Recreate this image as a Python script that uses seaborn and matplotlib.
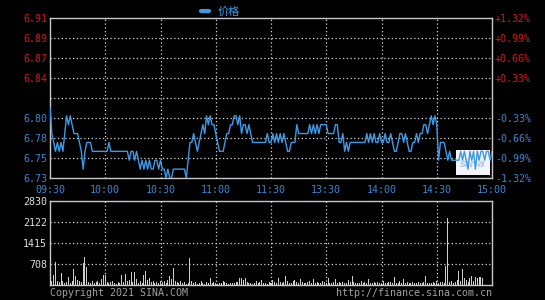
import numpy as np
import pandas as pd
import matplotlib
matplotlib.use("Agg")
import matplotlib.pyplot as plt
import seaborn as sns
from matplotlib.patches import Rectangle

# ---------------- data ----------------
time_ticks = ["09:30", "10:00", "10:30", "11:00", "11:30", "13:30", "14:00", "14:30", "15:00"]
price_ticks = ["6.73", "6.75", "6.78", "6.80", "", "6.84", "6.87", "6.89", "6.91"]
pct_ticks = ["-1.32%", "-0.99%", "-0.66%", "-0.33%", "", "+0.33%", "+0.66%", "+0.99%", "+1.32%"]
vol_ticks = ["", "708", "1415", "2122", "2830"]
price_low, price_high = 6.73, 6.91
vol_max = 2830

price = [
    6.81, 6.78, 6.77, 6.76, 6.77, 6.76, 6.77, 6.76, 6.78, 6.80,
    6.79, 6.80, 6.79, 6.78, 6.78, 6.78, 6.77, 6.76, 6.74, 6.76,
    6.77, 6.77, 6.77, 6.76, 6.76, 6.76, 6.76, 6.76, 6.76, 6.76,
    6.76, 6.76, 6.77, 6.76, 6.76, 6.76, 6.76, 6.76, 6.76, 6.76,
    6.76, 6.76, 6.76, 6.75, 6.76, 6.76, 6.75, 6.76, 6.75, 6.74,
    6.75, 6.74, 6.75, 6.74, 6.75, 6.74, 6.74, 6.75, 6.75, 6.74,
    6.75, 6.74, 6.74, 6.73, 6.74, 6.73, 6.73, 6.74, 6.74, 6.74,
    6.74, 6.74, 6.74, 6.74, 6.73, 6.75, 6.77, 6.77, 6.78, 6.77,
    6.76, 6.77, 6.78, 6.79, 6.78, 6.80, 6.79, 6.80, 6.79, 6.79,
    6.78, 6.77, 6.76, 6.76, 6.76, 6.77, 6.78, 6.78, 6.79, 6.79,
    6.80, 6.80, 6.79, 6.80, 6.78, 6.79, 6.79, 6.78, 6.79, 6.78,
    6.77, 6.77, 6.77, 6.77, 6.77, 6.77, 6.77, 6.77, 6.78, 6.77,
    6.77, 6.78, 6.77, 6.78, 6.77, 6.78, 6.77, 6.78, 6.77, 6.76,
    6.76, 6.77, 6.77, 6.77, 6.79, 6.78, 6.78, 6.78, 6.78, 6.78,
    6.78, 6.79, 6.78, 6.79, 6.78, 6.79, 6.78, 6.79, 6.79, 6.79,
    6.79, 6.78, 6.78, 6.78, 6.78, 6.79, 6.79, 6.77, 6.77, 6.78,
    6.76, 6.77, 6.76, 6.77, 6.77, 6.77, 6.77, 6.77, 6.77, 6.77,
    6.77, 6.77, 6.78, 6.77, 6.78, 6.77, 6.78, 6.77, 6.77, 6.78,
    6.77, 6.77, 6.78, 6.77, 6.77, 6.78, 6.77, 6.76, 6.76, 6.77,
    6.78, 6.78, 6.77, 6.78, 6.77, 6.76, 6.76, 6.77, 6.77, 6.78,
    6.77, 6.78, 6.78, 6.79, 6.79, 6.78, 6.79, 6.80, 6.79, 6.80,
    6.79, 6.75, 6.77, 6.77, 6.77, 6.76, 6.75, 6.76, 6.75, 6.75,
    6.75, 6.75, 6.75, 6.76, 6.75, 6.76, 6.75, 6.74, 6.76, 6.75,
    6.76, 6.74, 6.76, 6.75, 6.76, 6.76, 6.75, 6.76, 6.76, 6.75,
    6.76,
]

volume = [
    280, 120, 340, 790, 150, 90, 420, 130, 60, 110,
    260, 80, 140, 530, 300, 180, 120, 90, 730, 950,
    620, 100, 70, 150, 60, 90, 120, 80, 200, 340,
    340, 110, 60, 90, 130, 70, 50, 110, 80, 350,
    90, 370, 120, 160, 430, 100, 450, 200, 80, 130,
    60, 330, 480, 180, 240, 90, 120, 60, 100, 80,
    150, 90, 130, 70, 180, 320, 200, 560, 150, 90,
    60, 120, 80, 100, 50, 70, 920, 130, 60, 90,
    50, 80, 120, 60, 40, 90, 70, 250, 60, 110,
    80, 50, 70, 60, 150, 90, 60, 40, 80, 70,
    60, 110, 90, 220, 230, 180, 240, 90, 60, 80,
    50, 70, 120, 60, 90, 170, 60, 80, 50, 100,
    60, 180, 90, 70, 250, 110, 60, 90, 300, 150,
    80, 60, 120, 170, 90, 60, 210, 110, 80, 60,
    90, 130, 70, 200, 60, 100, 80, 60, 120, 90,
    70, 220, 60, 80, 100, 190, 60, 90, 70, 110,
    60, 80, 180, 90, 310, 100, 70, 60, 80, 120,
    60, 90, 70, 210, 60, 80, 100, 60, 90, 70,
    60, 120, 80, 70, 90, 110, 60, 280, 80, 60,
    130, 70, 200, 60, 90, 80, 60, 100, 70, 60,
    90, 80, 60, 110, 310, 70, 60, 80, 90, 60,
    120, 80, 90, 100, 60, 650, 2250, 90, 120, 80,
    100, 160, 470, 150, 540, 250, 180, 90, 220, 300,
    150, 260, 220, 280, 260, 240, 0, 0, 0, 0,
    0,
]

minutes = np.arange(len(price))
df = pd.DataFrame({"minute": minutes, "price": price, "volume": volume})

# ---------------- style ----------------
sns.set_style("dark")
plt.rcParams["font.family"] = ["DejaVu Sans Mono", "Noto Sans CJK SC"]

BG = "#000000"
SPINE = "#c8c8c8"
GRID = "#d8d8d8"
RED = "#d01818"
BLUE = "#3d85d0"
LINE = "#3c9ae8"
FS = 7.2

fig = plt.figure(figsize=(5.45, 3.0), dpi=100, facecolor=BG)
ax = fig.add_axes([50 / 545, 1 - 178 / 300, 442 / 545, 160 / 300])
axv = fig.add_axes([50 / 545, 1 - 285 / 300, 442 / 545, 84 / 300])

for a in (ax, axv):
    a.set_facecolor(BG)
    for s in a.spines.values():
        s.set_color(SPINE)
        s.set_linewidth(1.0)
        s.set_visible(True)

# ---------------- price panel ----------------
sns.lineplot(data=df, x="minute", y="price", ax=ax, color=LINE, linewidth=1.0,
             label="价格", zorder=5)

xt = np.linspace(0, 240, len(time_ticks))
ax.set_xlim(0, 240)
ax.set_ylim(price_low, price_high)
yt = np.linspace(price_low, price_high, len(price_ticks))
ax.set_xticks(xt)
ax.set_xticklabels(time_ticks)
ax.set_yticks(yt)
ax.set_yticklabels(price_ticks)
ax.set_xlabel("")
ax.set_ylabel("")
ax.tick_params(axis="both", length=0, labelsize=FS)
ax.tick_params(axis="x", pad=5, colors=BLUE)
ax.tick_params(axis="y", pad=2)
for lab, t in zip(ax.get_yticklabels(), price_ticks):
    lab.set_color(RED if float(t or 0) > 6.82 else BLUE)
ax.grid(False)
for v in xt[1:-1]:
    ax.axvline(v, color=GRID, linewidth=0.9, linestyle=(0, (1, 2)), zorder=1)
for v in yt[1:-1]:
    ax.axhline(v, color=GRID, linewidth=0.9, linestyle=(0, (1, 2)), zorder=1)

axr = ax.twinx()
axr.set_ylim(price_low, price_high)
axr.set_yticks(yt)
axr.set_yticklabels(pct_ticks)
axr.tick_params(axis="y", length=0, labelsize=FS, pad=2)
for lab, t in zip(axr.get_yticklabels(), pct_ticks):
    lab.set_color(RED if t.startswith("+") else BLUE)
for s in axr.spines.values():
    s.set_visible(False)
axr.grid(False)

# sina logo placeholder box
ax.add_patch(Rectangle((0.918, 0.02), 0.077, 0.155, transform=ax.transAxes,
                       facecolor="#f4f4f8", edgecolor="none", zorder=3))
ax.text(0.956, 0.09, "sina", transform=ax.transAxes, ha="center", va="center",
        fontsize=8, color="#b8c8e8", fontstyle="italic", fontweight="bold",
        family="DejaVu Sans", zorder=4)

leg = ax.legend(loc="lower left", bbox_to_anchor=(150 / 442, 1.0), frameon=False,
                handlelength=0.7, handletextpad=0.8, borderaxespad=0.0,
                borderpad=0.1, prop={"family": "Noto Sans CJK SC", "size": 8})
for t in leg.get_texts():
    t.set_color(LINE)
for h in leg.get_lines():
    h.set_linewidth(3)

# ---------------- volume panel ----------------
sns.barplot(data=df, x="minute", y="volume", ax=axv, native_scale=True,
            color="#cfcfcf", width=0.55, edgecolor="none", linewidth=0,
            saturation=1, zorder=5)
axv.set_xlim(0, 240)
axv.set_ylim(0, vol_max)
vt = np.linspace(0, vol_max, len(vol_ticks))
axv.set_yticks(vt)
axv.set_yticklabels(vol_ticks)
axv.set_xticks([])
axv.set_xlabel("")
axv.set_ylabel("")
axv.tick_params(axis="y", length=0, labelsize=FS, pad=2, colors="#e0e0e0")
axv.grid(False)
for v in xt[1:-1]:
    axv.axvline(v, color=GRID, linewidth=0.9, linestyle=(0, (1, 2)), zorder=1)
for v in vt[1:-1]:
    axv.axhline(v, color=GRID, linewidth=0.9, linestyle=(0, (1, 2)), zorder=1)

fig.text(50 / 545, 1 - 293 / 300, "Copyright 2021 SINA.COM", ha="left", va="center",
         fontsize=FS, color="#a0a0a0")
fig.text(492 / 545, 1 - 293 / 300, "http://finance.sina.com.cn", ha="right", va="center",
         fontsize=FS, color="#a0a0a0")

fig.savefig("out.png", dpi=100, facecolor=BG)
